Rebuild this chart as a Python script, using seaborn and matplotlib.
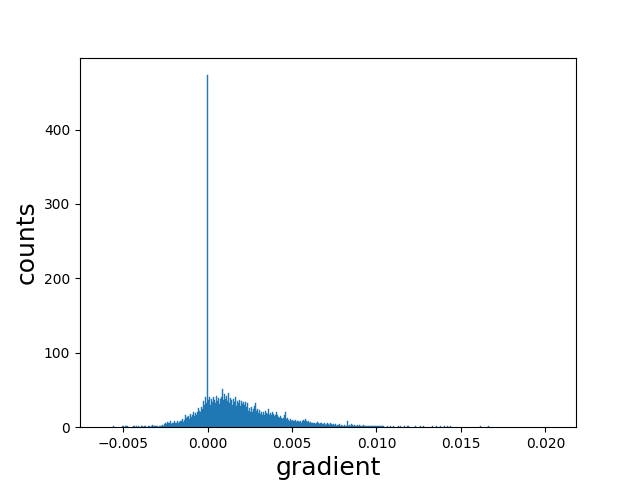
import numpy as np
import pandas as pd
import matplotlib
matplotlib.use("Agg")
import matplotlib.pyplot as plt
import seaborn as sns

# histogram range / bins
grad_min = -0.00622
grad_max = 0.02048
n_bins = 450

# counts per bin, left to right (10 per line)
counts = [
    0, 0, 0, 0, 0, 0, 0, 0, 0, 0,
    1, 0, 0, 0, 0, 0, 0, 0, 0, 1,
    1, 0, 1, 1, 1, 0, 0, 0, 0, 0,
    1, 1, 0, 1, 0, 1, 0, 0, 1, 1,
    0, 1, 1, 0, 0, 1, 1, 0, 1, 3,
    1, 1, 2, 1, 1, 0, 1, 2, 1, 3,
    2, 4, 5, 4, 7, 5, 6, 8, 4, 6,
    5, 9, 5, 6, 8, 5, 7, 9, 8, 11,
    7, 10, 16, 12, 14, 15, 11, 18, 14, 17,
    20, 15, 19, 16, 21, 26, 22, 20, 27, 24,
    35, 30, 40, 33, 473, 36, 41, 30, 38, 34,
    40, 37, 33, 42, 35, 39, 31, 38, 40, 51,
    36, 44, 38, 42, 35, 46, 33, 39, 36, 30,
    38, 34, 41, 29, 35, 33, 37, 28, 35, 31,
    34, 30, 34, 27, 32, 22, 26, 20, 27, 21,
    24, 28, 32, 22, 25, 19, 23, 18, 21, 17,
    20, 16, 22, 19, 18, 25, 17, 19, 16, 20,
    18, 15, 17, 21, 16, 14, 12, 15, 13, 11,
    12, 16, 20, 11, 13, 10, 9, 11, 8, 10,
    9, 8, 10, 7, 9, 8, 7, 9, 6, 8,
    10, 9, 11, 8, 7, 8, 6, 7, 5, 6,
    5, 6, 4, 5, 7, 5, 4, 6, 5, 4,
    4, 5, 3, 4, 5, 4, 3, 5, 4, 3,
    4, 3, 4, 2, 3, 3, 4, 2, 3, 2,
    2, 3, 2, 1, 8, 2, 3, 2, 4, 3,
    2, 3, 2, 1, 3, 2, 3, 1, 2, 2,
    3, 2, 1, 2, 2, 1, 2, 2, 1, 2,
    2, 1, 2, 1, 1, 2, 1, 1, 2, 1,
    1, 0, 0, 0, 1, 0, 0, 1, 0, 0,
    1, 0, 0, 0, 0, 1, 0, 1, 0, 0,
    0, 1, 0, 0, 1, 1, 0, 0, 0, 0,
    0, 0, 1, 0, 0, 0, 0, 1, 0, 0,
    1, 0, 0, 0, 0, 0, 0, 0, 0, 1,
    0, 0, 0, 1, 0, 0, 0, 1, 0, 0,
    0, 1, 0, 0, 1, 0, 0, 1, 0, 0,
    0, 0, 0, 0, 0, 0, 0, 0, 0, 0,
    0, 0, 0, 0, 0, 0, 0, 0, 0, 0,
    0, 0, 0, 0, 0, 0, 0, 1, 0, 0,
    0, 0, 0, 0, 0, 1, 0, 0, 0, 0,
    0, 0, 0, 0, 0, 0, 0, 0, 0, 0,
    0, 0, 0, 0, 0, 0, 0, 0, 0, 0,
    0, 0, 0, 0, 0, 0, 0, 0, 0, 0,
    0, 0, 0, 0, 0, 0, 0, 0, 0, 0,
    0, 0, 0, 0, 0, 0, 0, 0, 0, 0,
    0, 0, 0, 0, 0, 0, 0, 0, 0, 0,
]
assert len(counts) == n_bins

edges = np.linspace(grad_min, grad_max, n_bins + 1)
df = pd.DataFrame({"gradient": (edges[:-1] + edges[1:]) / 2, "counts": counts})

fig, ax = plt.subplots(figsize=(6.4, 4.8), dpi=100)
sns.histplot(data=df, x="gradient", weights="counts", bins=n_bins,
             binrange=(grad_min, grad_max), ax=ax,
             color="#1f77b4", alpha=1, linewidth=0.3, edgecolor="#1f77b4")
# empty bins: no outline along the baseline
for bar in ax.patches:
    if bar.get_height() == 0:
        bar.set_linewidth(0)
ax.set_xlabel("gradient", fontsize=18)
ax.set_ylabel("counts", fontsize=18)
plt.savefig("out.png")
